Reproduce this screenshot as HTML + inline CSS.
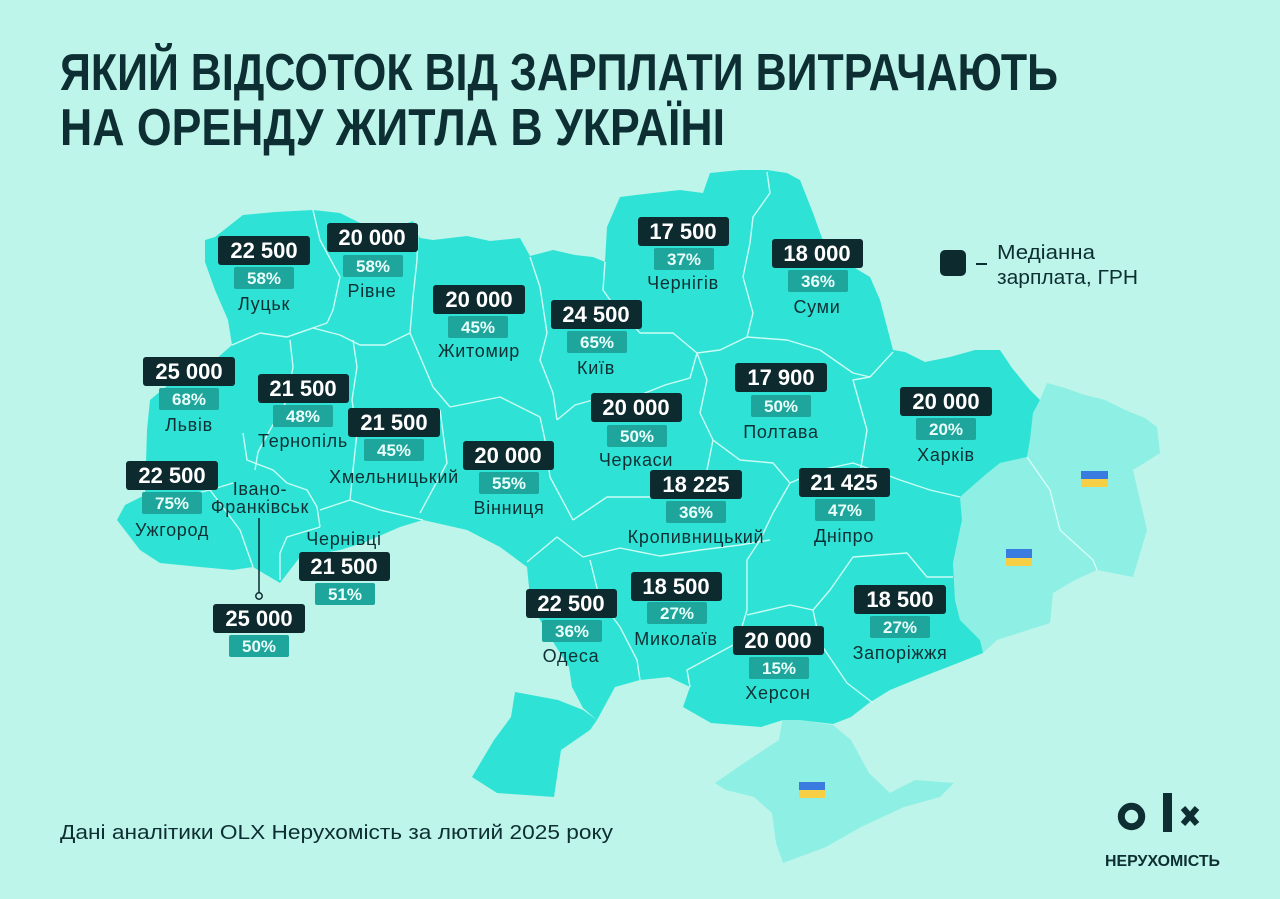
<!DOCTYPE html>
<html><head><meta charset="utf-8"><style>
html,body{margin:0;padding:0;background:#bdf5ea;}
svg{display:block;}
.t{font-family:"Liberation Sans",sans-serif;font-weight:bold;fill:#0d2e32;}
.n{font-family:"Liberation Sans",sans-serif;font-weight:bold;font-size:22px;fill:#ffffff;text-anchor:middle;}
.p{font-family:"Liberation Sans",sans-serif;font-weight:bold;font-size:17px;fill:#e9fffb;text-anchor:middle;}
.c{font-family:"Liberation Sans",sans-serif;font-size:18px;fill:#0e3034;text-anchor:middle;letter-spacing:0.7px;}
.r{fill:none;stroke:#dcfff9;stroke-width:1.4;stroke-linejoin:round;opacity:0.9;}
</style></head><body>
<svg width="1280" height="899" viewBox="0 0 1280 899" xmlns="http://www.w3.org/2000/svg">
<rect width="1280" height="899" fill="#bdf5ea"/>

<!-- title -->
<text class="t" x="60" y="90" font-size="52" textLength="998" lengthAdjust="spacingAndGlyphs">ЯКИЙ ВІДСОТОК ВІД ЗАРПЛАТИ ВИТРАЧАЮТЬ</text>
<text class="t" x="60" y="145" font-size="52" textLength="665" lengthAdjust="spacingAndGlyphs">НА ОРЕНДУ ЖИТЛА В УКРАЇНІ</text>

<!-- occupied regions -->
<path fill="#8eefe4" d="M1040,400 L1047,383 L1065,388 L1085,395 L1105,400 L1125,410 L1145,418 L1157,427 L1160,453 L1133,470 L1140,500 L1147,530 L1133,577 L1097,570 L1075,580 L1053,593 L1050,623 L997,640 L983,653 L980,640 L960,620 L955,600 L953,563 L962,520 L960,497 L985,475 L1000,463 L1027,457 L1030,440 L1033,413 Z"/>
<path fill="#8eefe4" d="M715,783 L744,763 L779,740 L783,717 L833,725 L851,740 L869,773 L890,793 L915,780 L954,783 L940,797 L904,807 L861,827 L826,847 L783,863 L776,843 L772,813 L754,797 L726,790 Z"/>
<path class="r" d="M1027,457 L1050,490 L1060,530 L1093,560 L1097,570"/>

<!-- main territory -->
<path fill="#2ee3d5" d="M205,240 L215,237 L243,215 L275,212 L313,210 L340,213 L362,224 L395,228 L413,221 L420,238 L433,240 L467,236 L490,241 L520,238 L530,256 L553,250 L575,255 L593,257 L605,262 L607,227 L620,197 L653,193 L680,190 L703,193 L710,173 L740,170 L767,170 L787,173 L800,180 L813,213 L822,238 L845,262 L870,277 L880,300 L887,327 L893,350 L905,352 L925,362 L950,357 L975,350 L1000,350 L1012,368 L1030,390 L1040,400 L1033,413 L1030,440 L1027,457 L1000,463 L985,475 L960,497 L962,520 L953,563 L955,600 L960,620 L980,640 L983,653 L958,663 L922,677 L890,690 L869,703 L851,717 L833,724 L800,720 L783,720 L761,727 L711,723 L683,707 L690,687 L669,677 L640,680 L615,687 L597,720 L583,708 L572,687 L569,667 L555,645 L540,620 L530,597 L527,567 L500,547 L467,530 L423,520 L400,527 L363,543 L340,550 L300,557 L280,583 L253,567 L233,570 L200,567 L160,563 L140,550 L117,520 L125,505 L145,495 L147,430 L150,400 L180,375 L215,360 L232,345 L228,320 L215,290 L205,262 Z"/>
<path fill="#2ee3d5" d="M515,692 L558,700 L583,710 L597,720 L590,730 L561,750 L554,797 L497,793 L472,777 L494,740 L511,717 Z"/>

<!-- region borders -->
<g class="r">
<path d="M313,210 L320,240 L340,277 L333,310 L327,323"/>
<path d="M232,345 L260,333 L287,337 L327,323"/>
<path d="M287,337 L313,328 L340,335 L360,345 L385,345 L410,333"/>
<path d="M418,232 L417,260 L413,297 L410,333"/>
<path d="M290,340 L293,367 L287,400 L270,430 L258,452 L255,470"/>
<path d="M353,340 L357,367 L352,400 L357,433 L353,470 L350,500"/>
<path d="M410,333 L433,387 L450,407"/>
<path d="M450,407 L500,397 L540,417"/>
<path d="M530,257 L540,287 L547,333 L540,360 L553,393 L557,420"/>
<path d="M605,262 L603,290 L610,300 L640,333 L673,333 L697,353"/>
<path d="M767,172 L770,193 L753,217 L750,243 L743,277 L753,313 L747,337 L720,350 L697,353"/>
<path d="M747,337 L787,340 L820,350 L853,373 L870,377 L893,352"/>
<path d="M557,420 L575,405 L600,398 L640,395 L665,385 L690,378 L697,353"/>
<path d="M697,353 L707,380 L700,413 L713,440"/>
<path d="M713,440 L740,460 L773,463 L790,483 L820,470 L853,463 L873,470"/>
<path d="M870,377 L853,380 L867,430 L860,473 L873,470"/>
<path d="M873,470 L900,480 L930,490 L960,497"/>
<path d="M540,417 L545,440 L550,477 L573,520"/>
<path d="M573,520 L607,497 L657,497 L690,480 L707,470 L713,440"/>
<path d="M527,562 L557,537 L583,557"/>
<path d="M583,557 L620,548 L660,556 L700,550 L740,545 L770,540"/>
<path d="M790,483 L773,513 L760,540 L747,560"/>
<path d="M590,560 L600,600 L620,627 L637,660 L640,680"/>
<path d="M747,560 L747,610 L737,643 L687,670 L690,687"/>
<path d="M747,615 L790,605 L813,610"/>
<path d="M813,610 L820,643 L847,683 L873,703"/>
<path d="M813,610 L830,590 L853,557 L907,553 L927,577 L953,577"/>
<path d="M145,495 L180,497 L210,490 L233,483"/>
<path d="M210,490 L225,510 L240,530 L253,567"/>
<path d="M243,433 L247,460 L273,470 L287,483 L307,490 L317,507 L320,527"/>
<path d="M320,527 L287,537 L280,553 L280,580"/>
<path d="M320,510 L350,500 L380,510 L423,520"/>
<path d="M440,410 L447,463 L420,513"/>
</g>

<!-- flags -->
<rect x="1081" y="471" width="27" height="8" fill="#3a7be0"/><rect x="1081" y="479" width="27" height="8" fill="#f6cf45"/>
<rect x="1006" y="549" width="26" height="9" fill="#3a7be0"/><rect x="1006" y="558" width="26" height="8" fill="#f6cf45"/>
<rect x="799" y="782" width="26" height="8" fill="#3a7be0"/><rect x="799" y="790" width="26" height="8" fill="#f6cf45"/>

<!-- IF pointer -->
<line x1="259" y1="518" x2="259" y2="593" stroke="#0d2a2e" stroke-width="1.5"/>
<circle cx="259" cy="596" r="3.2" fill="#bdf5ea" stroke="#0d2a2e" stroke-width="1.5"/>

<!-- labels -->
<g id="labels">
<rect x="218" y="236" width="92" height="29" rx="3" fill="#0d2a2e"/><text class="n" x="264" y="258">22 500</text>
<rect x="234" y="267" width="60" height="22" rx="2" fill="#1ea69c"/><text class="p" x="264" y="284">58%</text>
<text class="c" x="264" y="310">Луцьк</text>

<rect x="327" y="223" width="91" height="29" rx="3" fill="#0d2a2e"/><text class="n" x="372" y="245">20 000</text>
<rect x="343" y="255" width="60" height="22" rx="2" fill="#1ea69c"/><text class="p" x="373" y="272">58%</text>
<text class="c" x="372" y="297">Рівне</text>

<rect x="433" y="285" width="92" height="29" rx="3" fill="#0d2a2e"/><text class="n" x="479" y="307">20 000</text>
<rect x="448" y="316" width="60" height="22" rx="2" fill="#1ea69c"/><text class="p" x="478" y="333">45%</text>
<text class="c" x="479" y="357">Житомир</text>

<rect x="143" y="357" width="92" height="29" rx="3" fill="#0d2a2e"/><text class="n" x="189" y="379">25 000</text>
<rect x="159" y="388" width="60" height="22" rx="2" fill="#1ea69c"/><text class="p" x="189" y="405">68%</text>
<text class="c" x="189" y="431">Львів</text>

<rect x="258" y="374" width="91" height="29" rx="3" fill="#0d2a2e"/><text class="n" x="303" y="396">21 500</text>
<rect x="273" y="405" width="60" height="22" rx="2" fill="#1ea69c"/><text class="p" x="303" y="422">48%</text>
<text class="c" x="303" y="447">Тернопіль</text>

<rect x="348" y="408" width="92" height="29" rx="3" fill="#0d2a2e"/><text class="n" x="394" y="430">21 500</text>
<rect x="364" y="439" width="60" height="22" rx="2" fill="#1ea69c"/><text class="p" x="394" y="456">45%</text>
<text class="c" x="394" y="483">Хмельницький</text>

<rect x="463" y="441" width="91" height="29" rx="3" fill="#0d2a2e"/><text class="n" x="508" y="463">20 000</text>
<rect x="479" y="472" width="60" height="22" rx="2" fill="#1ea69c"/><text class="p" x="509" y="489">55%</text>
<text class="c" x="509" y="514">Вінниця</text>

<rect x="126" y="461" width="92" height="29" rx="3" fill="#0d2a2e"/><text class="n" x="172" y="483">22 500</text>
<rect x="142" y="492" width="60" height="22" rx="2" fill="#1ea69c"/><text class="p" x="172" y="509">75%</text>
<text class="c" x="172" y="536">Ужгород</text>

<text class="c" x="260" y="495">Івано-</text>
<text class="c" x="260" y="513">Франківськ</text>
<rect x="213" y="604" width="92" height="29" rx="3" fill="#0d2a2e"/><text class="n" x="259" y="626">25 000</text>
<rect x="229" y="635" width="60" height="22" rx="2" fill="#1ea69c"/><text class="p" x="259" y="652">50%</text>

<text class="c" x="344" y="545">Чернівці</text>
<rect x="299" y="552" width="91" height="29" rx="3" fill="#0d2a2e"/><text class="n" x="344" y="574">21 500</text>
<rect x="315" y="583" width="60" height="22" rx="2" fill="#1ea69c"/><text class="p" x="345" y="600">51%</text>

<rect x="551" y="300" width="91" height="29" rx="3" fill="#0d2a2e"/><text class="n" x="596" y="322">24 500</text>
<rect x="567" y="331" width="60" height="22" rx="2" fill="#1ea69c"/><text class="p" x="597" y="348">65%</text>
<text class="c" x="596" y="374">Київ</text>

<rect x="638" y="217" width="91" height="29" rx="3" fill="#0d2a2e"/><text class="n" x="683" y="239">17 500</text>
<rect x="654" y="248" width="60" height="22" rx="2" fill="#1ea69c"/><text class="p" x="684" y="265">37%</text>
<text class="c" x="683" y="289">Чернігів</text>

<rect x="772" y="239" width="91" height="29" rx="3" fill="#0d2a2e"/><text class="n" x="817" y="261">18 000</text>
<rect x="788" y="270" width="60" height="22" rx="2" fill="#1ea69c"/><text class="p" x="818" y="287">36%</text>
<text class="c" x="817" y="313">Суми</text>

<rect x="735" y="363" width="92" height="29" rx="3" fill="#0d2a2e"/><text class="n" x="781" y="385">17 900</text>
<rect x="751" y="395" width="60" height="22" rx="2" fill="#1ea69c"/><text class="p" x="781" y="412">50%</text>
<text class="c" x="781" y="438">Полтава</text>

<rect x="591" y="393" width="91" height="29" rx="3" fill="#0d2a2e"/><text class="n" x="636" y="415">20 000</text>
<rect x="607" y="425" width="60" height="22" rx="2" fill="#1ea69c"/><text class="p" x="637" y="442">50%</text>
<text class="c" x="636" y="466">Черкаси</text>

<rect x="650" y="470" width="92" height="29" rx="3" fill="#0d2a2e"/><text class="n" x="696" y="492">18 225</text>
<rect x="666" y="501" width="60" height="22" rx="2" fill="#1ea69c"/><text class="p" x="696" y="518">36%</text>
<text class="c" x="696" y="543">Кропивницький</text>

<rect x="799" y="468" width="91" height="29" rx="3" fill="#0d2a2e"/><text class="n" x="844" y="490">21 425</text>
<rect x="815" y="499" width="60" height="22" rx="2" fill="#1ea69c"/><text class="p" x="845" y="516">47%</text>
<text class="c" x="844" y="542">Дніпро</text>

<rect x="900" y="387" width="92" height="29" rx="3" fill="#0d2a2e"/><text class="n" x="946" y="409">20 000</text>
<rect x="916" y="418" width="60" height="22" rx="2" fill="#1ea69c"/><text class="p" x="946" y="435">20%</text>
<text class="c" x="946" y="461">Харків</text>

<rect x="526" y="589" width="91" height="29" rx="3" fill="#0d2a2e"/><text class="n" x="571" y="611">22 500</text>
<rect x="542" y="620" width="60" height="22" rx="2" fill="#1ea69c"/><text class="p" x="572" y="637">36%</text>
<text class="c" x="571" y="662">Одеса</text>

<rect x="631" y="572" width="91" height="29" rx="3" fill="#0d2a2e"/><text class="n" x="676" y="594">18 500</text>
<rect x="647" y="602" width="60" height="22" rx="2" fill="#1ea69c"/><text class="p" x="677" y="619">27%</text>
<text class="c" x="676" y="645">Миколаїв</text>

<rect x="733" y="626" width="91" height="29" rx="3" fill="#0d2a2e"/><text class="n" x="778" y="648">20 000</text>
<rect x="749" y="657" width="60" height="22" rx="2" fill="#1ea69c"/><text class="p" x="779" y="674">15%</text>
<text class="c" x="778" y="699">Херсон</text>

<rect x="854" y="585" width="92" height="29" rx="3" fill="#0d2a2e"/><text class="n" x="900" y="607">18 500</text>
<rect x="870" y="616" width="60" height="22" rx="2" fill="#1ea69c"/><text class="p" x="900" y="633">27%</text>
<text class="c" x="900" y="659">Запоріжжя</text>
</g>

<!-- legend -->
<rect x="940" y="250" width="26" height="26" rx="5" fill="#0d2a2e"/>
<line x1="976" y1="264" x2="987" y2="264" stroke="#0d2e32" stroke-width="2"/>
<text x="997" y="259" font-family="Liberation Sans, sans-serif" font-size="20" fill="#0d2e32" textLength="98" lengthAdjust="spacingAndGlyphs">Медіанна</text>
<text x="997" y="284" font-family="Liberation Sans, sans-serif" font-size="20" fill="#0d2e32" textLength="141" lengthAdjust="spacingAndGlyphs">зарплата, ГРН</text>

<!-- footer -->
<text x="60" y="839" font-family="Liberation Sans, sans-serif" font-size="20" fill="#0d2e32" textLength="553" lengthAdjust="spacingAndGlyphs">Дані аналітики OLX Нерухомість за лютий 2025 року</text>

<!-- OLX logo -->
<circle cx="1131.5" cy="816.5" r="10.2" fill="none" stroke="#0d2e32" stroke-width="7"/>
<rect x="1163" y="793" width="9" height="39" fill="#0d2e32"/>
<line x1="1183" y1="808" x2="1197" y2="824" stroke="#0d2e32" stroke-width="6"/>
<line x1="1197" y1="808" x2="1183" y2="824" stroke="#0d2e32" stroke-width="6"/>
<text x="1105" y="866" font-family="Liberation Sans, sans-serif" font-weight="bold" font-size="16" fill="#0d2e32" textLength="115" lengthAdjust="spacingAndGlyphs">НЕРУХОМІСТЬ</text>
</svg>
</body></html>
